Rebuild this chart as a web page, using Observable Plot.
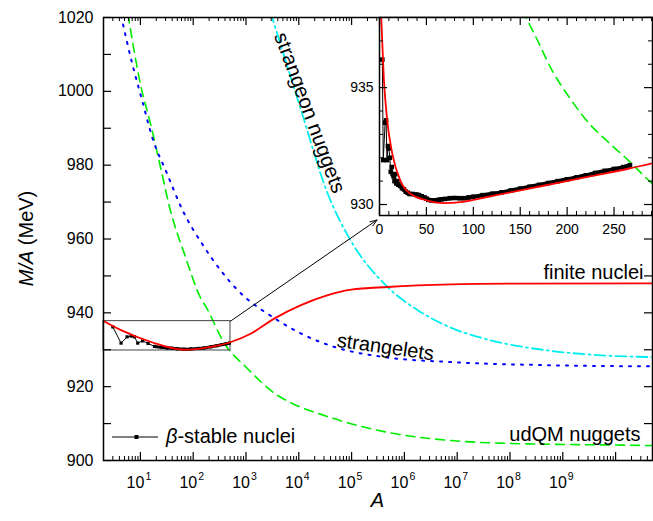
<!DOCTYPE html>
<html><head><meta charset="utf-8">
<script src="https://cdn.jsdelivr.net/npm/d3@7"></script>
<script src="https://cdn.jsdelivr.net/npm/@observablehq/plot@0.6"></script>
<style>
body{margin:0;background:#fff;}
#chart{position:relative;width:653px;height:521px;overflow:hidden;background:#fff;}
#chart svg{position:absolute;left:0;top:0;}
</style></head><body><div id="chart"></div>
<script>
// ---------- data (main panel, log A) ----------
const finiteA = [2, 4.3, 16, 68, 218, 522, 1250, 3470, 11000, 35500, 98000, 480000, 7.6e6, 1e8, 5e10];
const finiteM = [937.8, 935.3, 932.1, 930.0, 930.8, 932.1, 934.4, 938.5, 942.1, 944.8, 946.3, 947.0, 947.7, 947.9, 948.0];

const udqmA = [5.8, 10, 16, 24.7, 35.4, 70, 140, 175, 390, 1000, 4000, 6700, 38000, 450000, 7.7e6, 6.4e7, 3e10, 5e10];
const udqmM = [1021, 1002.0, 990.5, 978.7, 968.8, 955.5, 943.9, 941.6, 931.7, 925.3, 917.6, 915.8, 911.75, 907.7, 905.4, 904.7, 904.1, 904.05];

const strangeletA = [4.3, 7.0, 10.8, 16.7, 32, 62, 152, 700, 3500, 11000, 46000, 420000, 6.8e6, 6e8, 5e10];
const strangeletM = [1020.5, 1007.5, 997.5, 987.6, 977.7, 968.0, 958.4, 946.1, 938.5, 934.4, 930.8, 928.0, 926.7, 925.8, 925.5];

const strangeonA = [2900, 11000, 35000, 90000, 480000, 1.8e6, 7e6, 3.3e7, 6e8, 5.3e9, 5e10];
const strangeonM = [1021.6, 995.0, 972.4, 960.3, 947.0, 940.7, 936.2, 933.0, 929.7, 928.5, 928.0];

const mainNucA = [3, 4.3, 5.6, 6.7, 7.7, 8.9, 11, 14, 18.5, 25, 32, 40, 50, 68, 90, 126, 160, 218, 280, 350, 420, 485];
const mainNucM = [936.2, 931.8, 933.5, 933.7, 933.5, 931.8, 932.4, 931.7, 930.9, 930.7, 930.5, 930.4, 930.25, 930.15, 930.2, 930.35, 930.5, 930.8, 931.1, 931.4, 931.6, 931.8];

const boxA = [2, 508];
const boxM = [929.8, 937.75];
const arrowA = [508, 3.03e5];
const arrowM = [937.75, 965.15];

// ---------- data (inset, linear A) ----------
const nucA = [3,4,6,7,8,9,10,11,12,13,14,15,16,17,18,19,20,22,24,26,28,30,32,35,38,40,42,45,48,50,52,55,58,60,63,66,70,75,80,85,90,95,100,110,120,130,140,150,160,170,180,190,200,210,220,230,240,250,260,267];
const nucM = [936.2,931.9,933.5,933.6,931.9,932.5,932.4,932.0,931.4,931.6,931.3,931.2,931.0,931.3,930.9,931.0,930.85,930.8,930.7,930.65,930.55,930.5,930.45,930.45,930.42,930.42,930.4,930.35,930.3,930.25,930.2,930.18,930.16,930.18,930.2,930.22,930.24,930.27,930.28,930.27,930.27,930.3,930.33,930.4,930.46,930.52,930.6,930.68,930.76,930.84,930.92,931.0,931.08,931.16,931.25,931.35,931.44,931.52,931.6,931.68];

const insetRedA = [1.5, 4.6, 8.2, 13.5, 22.4, 33, 51, 68.7, 86.5, 122, 158, 193, 229, 265, 295];
const insetRedM = [938.3, 935.4, 933.6, 932.2, 931.0, 930.46, 930.17, 930.06, 930.1, 930.38, 930.67, 930.95, 931.24, 931.53, 931.8];

const insetUdqmA = [152, 165, 184.5, 202, 225, 243, 265, 288, 300];
const insetUdqmM = [938.3, 937.3, 935.7, 934.6, 933.4, 932.7, 931.9, 931.0, 930.6];

// ---------- ticks ----------
const yTickLabels = [900, 920, 940, 960, 980, 1000, 1020];
const yTicks = [900, 910, 920, 930, 940, 950, 960, 970, 980, 990, 1000, 1010, 1020];
const xExponents = [1, 2, 3, 4, 5, 6, 7, 8, 9];
const insetXLabels = [0, 50, 100, 150, 200, 250];
const insetYLabels = [930, 935];
const insetYMinor = [931, 932, 933, 934, 936, 937];

// ---------- layout ----------
const W = 653, H = 521;
const font = '"Liberation Sans", Arial, Helvetica, sans-serif';
const mL = 103, mR = 1, mT = 17, mB = 61;
const iW = W - mL - mR, iH = H - mT - mB;
const inL = 379, inR = 1, inT = 17, inB = H - 215;
const inW = W - inL - inR, inH = H - inT - inB;
const pts = (xs, ys) => xs.map((x, i) => ({a: x, m: ys[i]}));

const xMajor = d3.range(0, 11).map(e => 10 ** e).filter(v => v >= 2 && v <= 5e10);
const xMinor = [];
for (let e = 0; e <= 10; e++) for (let k = 2; k <= 9; k++) { const v = k * 10 ** e; if (v >= 2 && v <= 5e10) xMinor.push(v); }
const insetXMinor = d3.range(10, 291, 10).filter(v => v % 50 !== 0);

const red = "#ff0000", green = "#00ee00", blue = "#0000ff", cyan = "#00eeee";

const main = Plot.plot({
  width: W, height: H,
  marginLeft: mL, marginRight: mR, marginTop: mT, marginBottom: mB,
  x: {type: "log", domain: [2, 5e10], axis: null},
  y: {domain: [900, 1020], axis: null},
  style: {fontFamily: font, background: "transparent", overflow: "visible", color: "black"},
  marks: [
    Plot.line(pts(udqmA, udqmM), {x: "a", y: "m", stroke: green, strokeWidth: 1.6, strokeDasharray: "9,6", curve: "monotone-x", clip: true}),
    Plot.line(pts(strangeletA, strangeletM), {x: "a", y: "m", stroke: blue, strokeWidth: 2, strokeDasharray: "2,7", curve: "monotone-x", clip: true}),
    Plot.line(pts(strangeonA, strangeonM), {x: "a", y: "m", stroke: cyan, strokeWidth: 1.8, strokeDasharray: "11,4,2,4", curve: "monotone-x", clip: true}),
    Plot.rect([{a1: boxA[0], a2: boxA[1], m1: boxM[0], m2: boxM[1]}], {x1: "a1", x2: "a2", y1: "m1", y2: "m2", fill: "none", stroke: "#444", strokeWidth: 1}),
    Plot.line(pts(mainNucA, mainNucM), {x: "a", y: "m", stroke: "black", strokeWidth: 1, curve: "linear", clip: true}),
    Plot.line(pts(mainNucA.slice(8), mainNucM.slice(8)), {x: "a", y: "m", stroke: "black", strokeWidth: 3, curve: "monotone-x", clip: true}),
    Plot.dot(pts(mainNucA, mainNucM), {x: "a", y: "m", symbol: "square", r: 1.8, fill: "black", stroke: "none"}),
    Plot.line(pts(finiteA, finiteM), {x: "a", y: "m", stroke: red, strokeWidth: 1.8, curve: "monotone-x", clip: true}),
    Plot.arrow([{a1: arrowA[0], m1: arrowM[0], a2: arrowA[1], m2: arrowM[1]}], {x1: "a1", y1: "m1", x2: "a2", y2: "m2", stroke: "black", strokeWidth: 1, headLength: 11, headAngle: 40}),
    // ticks
    Plot.ruleY(yTicks, {y: d => d, insetRight: iW - 8, stroke: "black", strokeWidth: 1.2}),
    Plot.ruleY(yTicks, {y: d => d, insetLeft: iW - 8, stroke: "black", strokeWidth: 1.2}),
    Plot.ruleX(xMajor, {x: d => d, insetTop: iH - 8, stroke: "black", strokeWidth: 1.2}),
    Plot.ruleX(xMinor, {x: d => d, insetTop: iH - 4, stroke: "black", strokeWidth: 1}),
    Plot.ruleX(xMajor, {x: d => d, insetBottom: iH - 8, stroke: "black", strokeWidth: 1.2}),
    Plot.ruleX(xMinor, {x: d => d, insetBottom: iH - 4, stroke: "black", strokeWidth: 1}),
    Plot.frame({stroke: "black", strokeWidth: 1.5}),
    // tick labels
    Plot.text(yTickLabels, {y: d => d, text: d => String(d), frameAnchor: "left", textAnchor: "end", dx: -10, fontSize: 16, fill: "black"}),
    Plot.text(xExponents, {x: d => 10 ** d, text: () => "10", frameAnchor: "bottom", textAnchor: "end", lineAnchor: "bottom", dx: 4, dy: 27, fontSize: 16, fill: "black"}),
    Plot.text(xExponents, {x: d => 10 ** d, text: d => String(d), frameAnchor: "bottom", textAnchor: "start", lineAnchor: "bottom", dx: 5, dy: 19, fontSize: 10.5, fill: "black"}),
    // curve labels
    Plot.text(["finite nuclei"], {x: [3.37e10], y: [949.1], textAnchor: "end", lineAnchor: "bottom", fontSize: 20, fill: "black"}),
    Plot.text(["udQM nuggets"], {x: [2.96e10], y: [905.4], textAnchor: "end", lineAnchor: "bottom", fontSize: 20, fill: "black"}),
    Plot.text(["strangelets"], {x: [4.38e5], y: [930.7], textAnchor: "middle", lineAnchor: "middle", rotate: 8, fontSize: 20, fill: "black"}),
    Plot.text(["strangeon nuggets"], {x: [1.6e4], y: [994.2], textAnchor: "middle", lineAnchor: "middle", rotate: 69.6, fontSize: 20.5, fill: "black"})
  ]
});

const inset = Plot.plot({
  width: W, height: H,
  marginLeft: inL, marginRight: inR, marginTop: inT, marginBottom: inB,
  x: {domain: [0, 291], axis: null},
  y: {domain: [929.53, 938.0], axis: null},
  style: {fontFamily: font, background: "transparent", overflow: "visible", color: "black"},
  marks: [
    Plot.frame({fill: "white", stroke: "none"}),
    Plot.line(pts(insetUdqmA, insetUdqmM), {x: "a", y: "m", stroke: green, strokeWidth: 1.6, strokeDasharray: "9,6", curve: "monotone-x", clip: true}),
    Plot.line(pts(nucA, nucM), {x: "a", y: "m", stroke: "black", strokeWidth: 1, clip: true}),
    Plot.dot(pts(nucA, nucM), {x: "a", y: "m", symbol: "square", r: 2.6, fill: "black", stroke: "none", clip: true}),
    Plot.line(pts(nucA.slice(16), nucM.slice(16)), {x: "a", y: "m", stroke: "black", strokeWidth: 4, curve: "monotone-x", clip: true}),
    Plot.line(pts(insetRedA, insetRedM), {x: "a", y: "m", stroke: red, strokeWidth: 1.8, curve: "monotone-x", clip: true}),
    // ticks
    Plot.ruleY(insetYMinor, {y: d => d, insetRight: inW - 4, stroke: "black", strokeWidth: 1}),
    Plot.ruleY(insetYLabels, {y: d => d, insetRight: inW - 8, stroke: "black", strokeWidth: 1.2}),
    Plot.ruleY(insetYMinor, {y: d => d, insetLeft: inW - 4, stroke: "black", strokeWidth: 1}),
    Plot.ruleY(insetYLabels, {y: d => d, insetLeft: inW - 8, stroke: "black", strokeWidth: 1.2}),
    Plot.ruleX(insetXMinor, {x: d => d, insetTop: inH - 4, stroke: "black", strokeWidth: 1}),
    Plot.ruleX(insetXLabels, {x: d => d, insetTop: inH - 8, stroke: "black", strokeWidth: 1.2}),
    Plot.ruleX(insetXMinor, {x: d => d, insetBottom: inH - 4, stroke: "black", strokeWidth: 1}),
    Plot.ruleX(insetXLabels, {x: d => d, insetBottom: inH - 8, stroke: "black", strokeWidth: 1.2}),
    Plot.frame({stroke: "black", strokeWidth: 1.5}),
    Plot.text(insetYLabels, {y: d => d, text: d => String(d), frameAnchor: "left", textAnchor: "end", dx: -6, fontSize: 14, fill: "black"}),
    Plot.text(insetXLabels, {x: d => d, text: d => String(d), frameAnchor: "bottom", lineAnchor: "bottom", dy: 18, fontSize: 14, fill: "black"})
  ]
});

const chart = document.getElementById("chart");
chart.appendChild(main);
chart.appendChild(inset);

// axis titles and legend
const svg = d3.select(main);
const yt = svg.append("text")
  .attr("transform", `translate(33,${mT + iH / 2}) rotate(-90)`)
  .attr("text-anchor", "middle").attr("font-size", 20).attr("font-family", font).attr("fill", "black");
yt.append("tspan").attr("font-style", "italic").text("M/A");
yt.append("tspan").text(" (MeV)");
svg.append("text")
  .attr("x", mL + iW / 2).attr("y", 507)
  .attr("text-anchor", "middle").attr("font-size", 20).attr("font-style", "italic")
  .attr("font-family", font).attr("fill", "black").text("A");

const leg = svg.append("g");
leg.append("line").attr("x1", 112).attr("x2", 158).attr("y1", 437).attr("y2", 437).attr("stroke", "black").attr("stroke-width", 1);
leg.append("rect").attr("x", 134.5).attr("y", 435).attr("width", 4).attr("height", 4).attr("fill", "black");
const lt = leg.append("text").attr("x", 166).attr("y", 443).attr("text-anchor", "start")
  .attr("font-size", 20).attr("font-family", font).attr("fill", "black");
lt.append("tspan").attr("font-style", "italic").text("β");
lt.append("tspan").text("-stable nuclei");
</script>
</body></html>
